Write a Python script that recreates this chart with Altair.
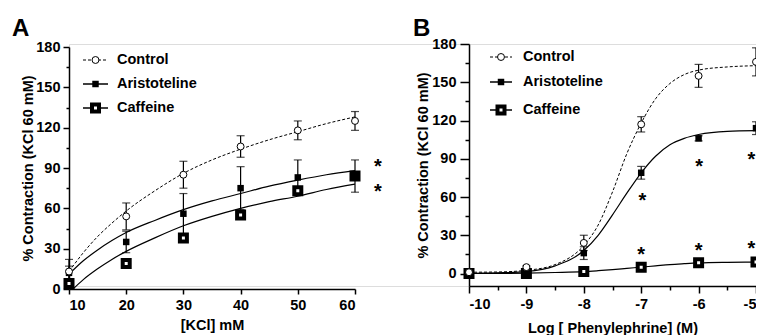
import altair as alt
import pandas as pd

FONT = "Liberation Sans"
FS = 14.5
series = ["Control", "Aristoteline", "Caffeine"]

# ---------------- Panel A : KCl ----------------
kcl = [10, 20, 30, 40, 50, 60]
a_control = [13, 54, 85, 106, 118, 125]
a_control_err = [9, 10, 10, 8, 7, 7]
a_aristo = [12, 35, 56, 75, 83, 84]
a_aristo_err = [5, 8, 15, 16, 13, 12]
a_caff = [4, 19, 38, 55, 73, 84]
a_caff_err = [3, 3, 3, 3, 3, 3]

# fitted curves
a_fit_x = [10, 12.5, 15, 17.5, 20, 25, 30, 35, 40, 45, 50, 55, 60]
a_fit_control = [13, 27, 39, 49, 58, 73, 86, 96, 104, 111, 117, 123, 128]
a_fit_aristo = [11, 21, 29, 36, 42, 51, 59, 65.5, 71, 76.5, 81, 85, 88]
a_fit_caff_x = [10.7, 12.5, 15, 17.5, 20, 25, 30, 35, 40, 45, 50, 55, 60]
a_fit_caff = [0, 7, 15, 22, 28, 38, 47, 54, 60, 65, 69, 74, 78]

a_star_x = [64, 64]
a_star_y = [93.7, 75]

# ---------------- Panel B : Phenylephrine ----------------
logpe = [-10, -9, -8, -7, -6, -5]
b_control = [1, 5, 24, 117, 155, 166]
b_control_err = [1, 1, 6, 6, 9, 11]
b_aristo = [0, 1, 16, 79, 106, 114]
b_aristo_err = [1, 1, 5, 5, 2, 5]
b_caff = [0, 0, 1.5, 5, 8.5, 9]
b_caff_err = [0.5, 0.5, 0.5, 0.5, 0.5, 0.5]

b_fit_x = [-10, -9.5, -9, -8.5, -8, -7.75, -7.5, -7.25, -7, -6.75, -6.5, -6.25, -6, -5.5, -5]
b_fit_control = [1, 1.2, 2.5, 7, 22, 38, 64, 94, 118, 137, 149, 156, 159.5, 162, 163]
b_fit_aristo = [0, 0.5, 1.5, 6, 18, 30, 46, 63, 79, 92, 101, 106, 109, 111.5, 112]
b_fit_caff = [0, 0.1, 0.3, 0.8, 1.5, 2.2, 3, 4, 5, 6, 7, 7.7, 8.3, 8.8, 9]

b_star_x = [-6.98, -5.99, -5.08, -7.0, -6.0, -5.08]
b_star_y = [60, 86.6, 91.8, 18, 20.7, 22]


def points_df(x, ys, errs):
    rows = []
    for s, y, e in zip(series, ys, errs):
        for xi, yi, ei in zip(x, y, e):
            rows.append({"x": xi, "y": yi, "lo": yi - ei, "hi": yi + ei, "s": s})
    return pd.DataFrame(rows)


def fit_df(xs_list, ys_list):
    rows = []
    for s, xs, ys in zip(series, xs_list, ys_list):
        for xi, yi in zip(xs, ys):
            rows.append({"x": xi, "y": yi, "s": s})
    return pd.DataFrame(rows)


CAFF = dict(shape="square", size=49, filled=True, fill="white", stroke="black",
            strokeWidth=4, opacity=1)
ARI = dict(shape="square", size=42, filled=True, color="black", opacity=1)
CTL = dict(shape="circle", size=48, filled=True, fill="white", stroke="black",
           strokeWidth=1, opacity=1)


def panel(pts, fits, stars_x, stars_y, xscale, yscale, xaxis, yaxis, xtitle,
          label, label_x, legend_x, legend_gap, legend_rows):
    X = lambda f="x": alt.X(f"{f}:Q", scale=xscale, axis=xaxis, title=xtitle)
    Y = lambda f="y": alt.Y(f"{f}:Q", scale=yscale, axis=yaxis,
                            title="% Contraction (KCl 60 mM)")
    base_f = alt.Chart(fits)
    curve_ctrl = base_f.transform_filter("datum.s == 'Control'").mark_line(
        color="black", strokeWidth=1, strokeDash=[3, 2], interpolate="monotone"
    ).encode(x=X(), y=Y())
    curve_other = base_f.transform_filter("datum.s != 'Control'").mark_line(
        color="black", strokeWidth=1.2, interpolate="monotone").encode(
        x=X(), y=Y(), detail="s:N")

    base_p = alt.Chart(pts)
    err = base_p.mark_rule(color="black", strokeWidth=1.2).encode(
        x=X(), y=Y("lo"), y2="hi:Q")
    cap_hi = base_p.mark_tick(color="black", orient="horizontal", size=8,
                              thickness=1.2).encode(x=X(), y=Y("hi"))
    cap_lo = base_p.mark_tick(color="black", orient="horizontal", size=8,
                              thickness=1.2).encode(x=X(), y=Y("lo"))
    caff_pts = base_p.transform_filter("datum.s == 'Caffeine'").mark_point(
        **CAFF).encode(x=X(), y=Y())
    ari_pts = base_p.transform_filter("datum.s == 'Aristoteline'").mark_point(
        **ARI).encode(x=X(), y=Y())
    ctl_pts = base_p.transform_filter("datum.s == 'Control'").mark_point(
        **CTL).encode(x=X(), y=Y())

    stars = alt.Chart(pd.DataFrame({"x": stars_x, "y": stars_y})).mark_text(
        text="*", font=FONT, fontWeight="bold", fontSize=20, baseline="middle",
        dy=4, align="center").encode(x=X(), y=Y())

    one = alt.Chart(pd.DataFrame({"a": [0]}))
    lx0, lx1 = legend_x
    lm = (lx0 + lx1) / 2
    leg = []
    for s, yy in zip(series, legend_rows):
        if s == "Control":
            leg.append(one.mark_rule(color="black", strokeWidth=1, strokeDash=[3, 2]).encode(
                x=alt.value(lx0), x2=alt.value(lx1), y=alt.value(yy)))
            leg.append(one.mark_point(**CTL).encode(x=alt.value(lm), y=alt.value(yy)))
        elif s == "Aristoteline":
            leg.append(one.mark_rule(color="black", strokeWidth=1.5).encode(
                x=alt.value(lx0), x2=alt.value(lx1), y=alt.value(yy)))
            leg.append(one.mark_point(**ARI).encode(x=alt.value(lm), y=alt.value(yy)))
        else:
            leg.append(one.mark_rule(color="black", strokeWidth=1.5).encode(
                x=alt.value(lx0), x2=alt.value(lx1), y=alt.value(yy)))
            leg.append(one.mark_point(**CAFF).encode(x=alt.value(lm), y=alt.value(yy)))
        leg.append(one.mark_text(text=s, font=FONT, fontWeight="bold", fontSize=FS,
                                 align="left", baseline="middle").encode(
            x=alt.value(lx1 + legend_gap), y=alt.value(yy)))

    lab = one.mark_text(text=label, font=FONT, fontWeight="bold", fontSize=24,
                        align="left", baseline="alphabetic").encode(
        x=alt.value(label_x), y=alt.value(-8))

    return alt.layer(curve_ctrl, curve_other, err, cap_hi, cap_lo, caff_pts,
                     ari_pts, ctl_pts, stars, *leg, lab)


AX = dict(domainColor="black", tickColor="black", domainWidth=1.5,
          tickWidth=1.5, labelColor="black", titleColor="black",
          labelFont=FONT, titleFont=FONT, labelFontSize=FS,
          titleFontSize=FS, labelFontWeight="bold",
          titleFontWeight="bold", grid=False)

pts_a = points_df(kcl, [a_control, a_aristo, a_caff],
                  [a_control_err, a_aristo_err, a_caff_err])
fits_a = fit_df([a_fit_x, a_fit_x, a_fit_caff_x],
                [a_fit_control, a_fit_aristo, a_fit_caff])
pts_b = points_df(logpe, [b_control, b_aristo, b_caff],
                  [b_control_err, b_aristo_err, b_caff_err])
fits_b = fit_df([b_fit_x, b_fit_x, b_fit_x],
                [b_fit_control, b_fit_aristo, b_fit_caff])

PLOT_W, PLOT_H = 687, 242

yaxis_a = alt.Axis(orient="left", values=list(range(0, 181, 15)),
                   labelExpr="datum.value % 30 === 0 ? datum.label : ''",
                   tickSize={"condition": {"test": "datum.value % 30 === 0", "value": 6},
                             "value": 3},
                   labelPadding=3, titlePadding=0, **AX)
yaxis_b = alt.Axis(orient="left", offset=-400, values=list(range(0, 181, 15)),
                   labelExpr="datum.value % 30 === 0 ? datum.label : ''",
                   tickSize={"condition": {"test": "datum.value % 30 === 0", "value": 9},
                             "value": 4},
                   labelPadding=4, titlePadding=1, **AX)
xaxis_a = alt.Axis(orient="bottom", offset=3, values=kcl, tickSize=5,
                   labelPadding=4, titlePadding=6.5, **AX)
xaxis_b = alt.Axis(orient="bottom", values=[-10 + 0.5 * i for i in range(11)],
                   labelExpr="datum.value % 1 === 0 ? toString(datum.value) : ''",
                   tickSize={"condition": {"test": "datum.value % 1 === 0", "value": 7},
                             "value": 4},
                   labelPadding=4, titlePadding=11, **AX)

panel_a = panel(pts_a, fits_a, a_star_x, a_star_y,
                alt.Scale(domain=[10, 60], range=[0, 286], nice=False, zero=False),
                alt.Scale(domain=[0, 180], range=[245, 3], nice=False),
                xaxis_a, yaxis_a, "[KCl] mM", "A", -57,
                (14, 39), 9, [16, 40, 64])
panel_b = panel(pts_b, fits_b, b_star_x, b_star_y,
                alt.Scale(domain=[-10, -5], range=[400, 687], nice=False, zero=False),
                alt.Scale(domain=[-9.8, 180], range=[PLOT_H, 0], nice=False, zero=False),
                xaxis_b, yaxis_b, "Log [ Phenylephrine] (M)", "B", 344,
                (421, 443), 11, [13, 38, 66])

chart = alt.layer(panel_a, panel_b).resolve_scale(
    x="independent", y="independent"
).resolve_axis(x="independent", y="independent").properties(
    width=PLOT_W, height=PLOT_H,
    autosize=alt.AutoSizeParams(type="none"),
    padding={"left": 61, "top": 36, "right": 0, "bottom": 52},
).configure_view(stroke=None).configure(background="white")

chart.save("out.html", embed_options={"renderer": "svg", "actions": False})
